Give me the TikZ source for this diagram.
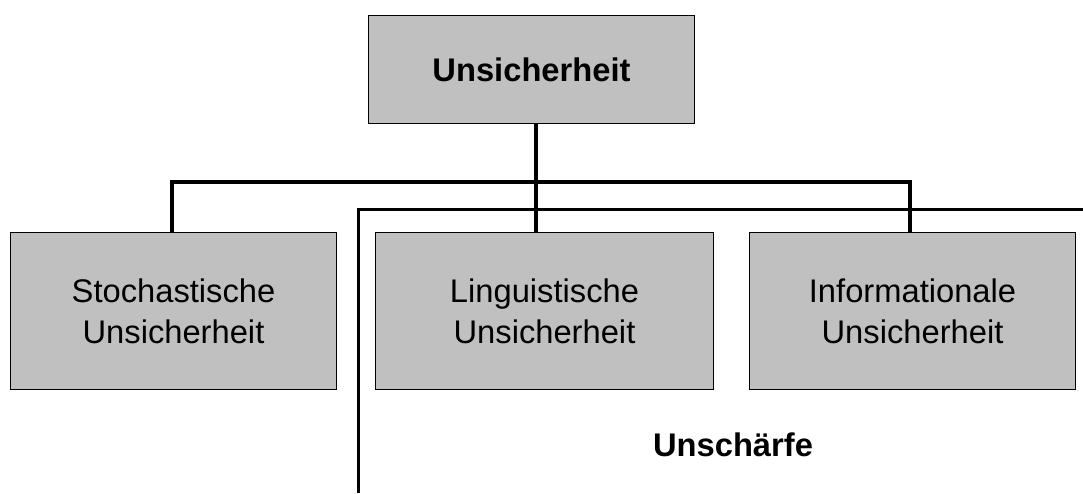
\documentclass[tikz,border=0pt]{standalone}
\usepackage{fontspec}
\setmainfont{Liberation Sans}
\definecolor{boxgray}{HTML}{C0C0C0}
\begin{document}
\begin{tikzpicture}[x=1pt,y=-1pt,
  catbox/.style={draw=black, line width=1pt, fill=boxgray, inner sep=0pt, anchor=north west,
    align=center, font=\fontsize{32.7}{41}\selectfont},
  headfont/.style={font=\bfseries\fontsize{32.7}{40}\selectfont},
  link/.style={line width=3.6pt},
  fuzzy/.style={line width=3pt}]
\useasboundingbox (0,0) rectangle (1083,493);
\node[catbox, minimum width=326pt, minimum height=108pt, headfont] (root) at (368,15) {Unsicherheit};
\node[catbox, minimum width=326pt, minimum height=157pt] (sto) at (10,232) {Stochastische\\Unsicherheit};
\node[catbox, minimum width=338pt, minimum height=157pt] (lin) at (375,232) {Linguistische\\Unsicherheit};
\node[catbox, minimum width=326pt, minimum height=157pt] (inf) at (749,232) {Informationale\\Unsicherheit};
\node[headfont] (fz) at (733,445) {Unschärfe};
% tree connectors
\draw[link] (root.south -| 536,0) -- (lin.north -| 536,0);
\draw[link] (sto.north -| 172,0) |- (910,182) -- (inf.north -| 910,0);
% fuzziness boundary
\coordinate (fzTop) at (358,209);
\coordinate (fzEnd) at (1083,209);
\coordinate (fzFoot) at (358,493);
\draw[fuzzy] (fzFoot) -- (fzTop) -- (fzEnd);
\end{tikzpicture}
\end{document}
